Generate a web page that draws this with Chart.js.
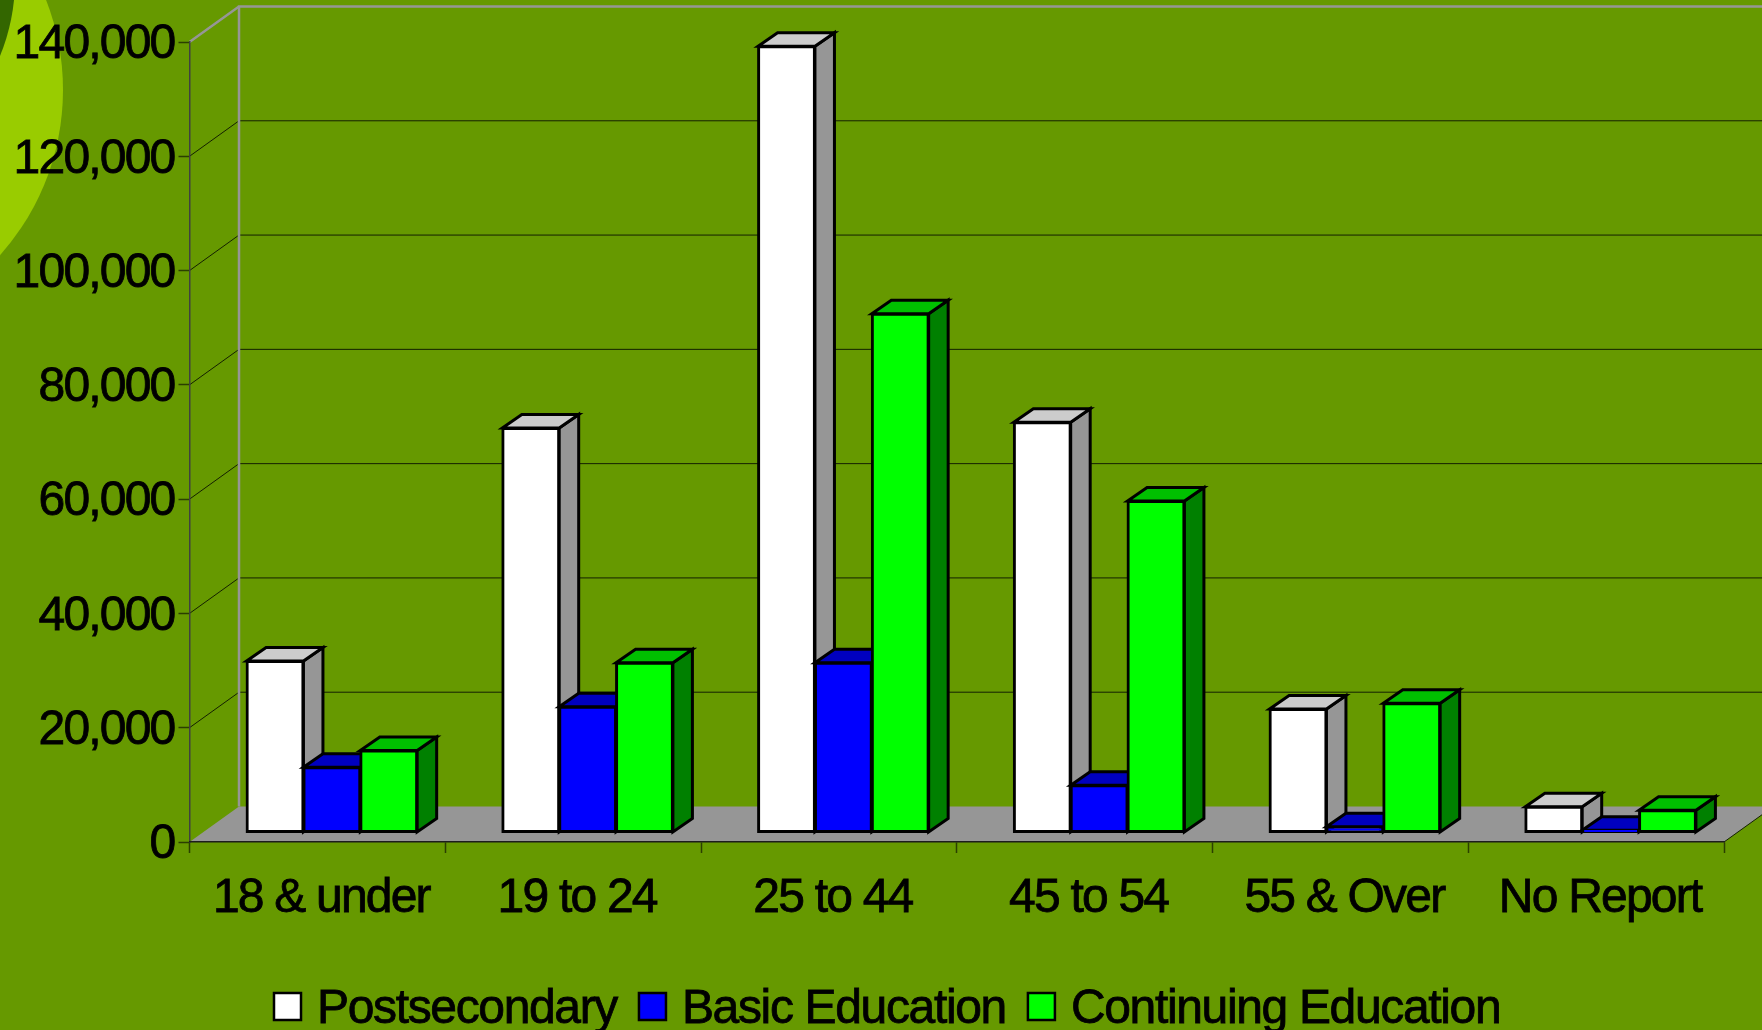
<!DOCTYPE html>
<html>
<head>
<meta charset="utf-8">
<style>
  html, body { margin: 0; padding: 0; background: #669900; overflow: hidden; }
  canvas { display: block; }
</style>
<script src="https://cdn.jsdelivr.net/npm/chart.js@4/dist/chart.umd.js"></script>
</head>
<body>
<canvas id="myChart" width="1762" height="1030" style="width:1762px;height:1030px"></canvas>
<script>
var categories = ["18 & under", "19 to 24", "25 to 44", "45 to 54", "55 & Over", "No Report"];
var postsecondary = [30000, 70800, 137600, 71800, 21600, 4500];
var basicEducation = [11400, 22000, 29700, 8250, 1000, 400];
var continuingEducation = [14350, 29700, 90800, 58000, 22600, 3900];

var FONT = "'Liberation Sans', Arial, sans-serif";
var WALL = { dx: 49.5, dy: 35.5 };      // depth of the whole 3d box
var SHIFT = { dx: 14.5, dy: 9.5 };      // bars sit this far back on the floor
var DEPTH = { dx: 19.5, dy: 13.5 };     // depth of one bar

function backdrop(ctx, chart) {
    ctx.fillStyle = "#669900";
    ctx.fillRect(0, 0, chart.width, chart.height);
    ctx.fillStyle = "#99cc00";
    ctx.beginPath();
    ctx.arc(-185, 90, 248, 0, Math.PI * 2);
    ctx.fill();
    ctx.fillStyle = "#336600";
    ctx.beginPath();
    ctx.arc(-185, -20, 200, 0, Math.PI * 2);
    ctx.fill();
}

function walls(ctx, chart) {
    var a = chart.chartArea;
    var y = chart.scales.y;
    var backX = a.left + WALL.dx;

    // floor
    ctx.fillStyle = "#969696";
    ctx.beginPath();
    ctx.moveTo(a.left, a.bottom);
    ctx.lineTo(backX, a.bottom - WALL.dy);
    ctx.lineTo(a.right + WALL.dx, a.bottom - WALL.dy);
    ctx.lineTo(a.right, a.bottom);
    ctx.closePath();
    ctx.fill();

    // gridlines on the side and back walls
    ctx.strokeStyle = "#142000";
    ctx.lineWidth = 1;
    y.ticks.forEach(function (t) {
        if (t.value === 0 || t.value === y.max) return;
        var py = y.getPixelForValue(t.value);
        ctx.beginPath();
        ctx.moveTo(a.left, py);
        ctx.lineTo(backX, py - WALL.dy);
        ctx.lineTo(a.right + WALL.dx, py - WALL.dy);
        ctx.stroke();
    });

    ctx.beginPath();
    ctx.moveTo(a.right, a.bottom);
    ctx.lineTo(a.right + WALL.dx, a.bottom - WALL.dy);
    ctx.stroke();

    // grey outline of the back wall
    ctx.strokeStyle = "#969696";
    ctx.lineWidth = 2.5;
    ctx.beginPath();
    ctx.moveTo(backX, a.bottom - WALL.dy);
    ctx.lineTo(backX, a.top - WALL.dy);
    ctx.lineTo(a.right + WALL.dx, a.top - WALL.dy);
    ctx.moveTo(backX, a.top - WALL.dy);
    ctx.lineTo(a.left, a.top);
    ctx.stroke();
}

function face(ctx, pts, fill) {
    ctx.fillStyle = fill;
    ctx.beginPath();
    pts.forEach(function (p, i) {
        if (i === 0) ctx.moveTo(p[0], p[1]);
        else ctx.lineTo(p[0], p[1]);
    });
    ctx.closePath();
    ctx.fill();
    ctx.stroke();
}

var box3d = {
    id: "box3d",
    beforeDraw: function (chart) {
        var ctx = chart.ctx;
        ctx.save();
        backdrop(ctx, chart);
        walls(ctx, chart);
        ctx.restore();
        ctx.letterSpacing = "-1.8px";
    },
    // left to right, so every bar covers the side of the one before it
    beforeDatasetsDraw: function (chart) {
        var ctx = chart.ctx;
        ctx.save();
        ctx.translate(SHIFT.dx, -SHIFT.dy);
        chart.getSortedVisibleDatasetMetas().forEach(function (meta) {
            var ds = chart.data.datasets[meta.index];
            ctx.strokeStyle = "#000";
            ctx.lineWidth = 3;
            ctx.lineJoin = "miter";
            meta.data.forEach(function (bar) {
                var x0 = bar.x - bar.width / 2;
                var x1 = bar.x + bar.width / 2;
                var d = DEPTH;
                face(ctx, [[x1, bar.y], [x1 + d.dx, bar.y - d.dy], [x1 + d.dx, bar.base - d.dy], [x1, bar.base]], ds.sideColor);
                face(ctx, [[x0, bar.y], [x0 + d.dx, bar.y - d.dy], [x1 + d.dx, bar.y - d.dy], [x1, bar.y]], ds.topColor);
            });
            meta.controller.draw();
        });
        ctx.restore();
        return false;
    },
    afterDraw: function (chart) {
        // legend squeezed under the axis, running off the bottom like the original
        var ctx = chart.ctx;
        var x = 274;
        ctx.save();
        ctx.font = "48px " + FONT;
        ctx.letterSpacing = "-1.35px";
        ctx.textBaseline = "alphabetic";
        ctx.textAlign = "left";
        chart.data.datasets.forEach(function (ds) {
            ctx.fillStyle = ds.backgroundColor;
            ctx.strokeStyle = "#000";
            ctx.lineWidth = 2.5;
            ctx.fillRect(x, 993, 27, 27);
            ctx.strokeRect(x, 993, 27, 27);
            ctx.fillStyle = "#000";
            ctx.lineWidth = 0.8;
            ctx.fillText(ds.label, x + 43, 1023);
            ctx.strokeText(ds.label, x + 43, 1023);
            x += 43 + ctx.measureText(ds.label).width + 22;
        });
        ctx.restore();
    }
};

var ctx = document.getElementById("myChart");

var myChart = new Chart(ctx, {
    type: "bar",
    data: {
        labels: categories,
        datasets: [
            {
                label: "Postsecondary",
                data: postsecondary,
                backgroundColor: "#ffffff",
                sideColor: "#969696",
                topColor: "#cccccc"
            },
            {
                label: "Basic Education",
                data: basicEducation,
                backgroundColor: "#0000ff",
                sideColor: "#000080",
                topColor: "#0000bf"
            },
            {
                label: "Continuing Education",
                data: continuingEducation,
                backgroundColor: "#00ff00",
                sideColor: "#008000",
                topColor: "#00c000"
            }
        ]
    },
    options: {
        responsive: false,
        animation: false,
        devicePixelRatio: 1,
        layout: {
            padding: { top: 42, right: 38, left: 0, bottom: 0 }
        },
        datasets: {
            bar: {
                borderColor: "#000",
                borderWidth: 3,
                borderSkipped: false,
                inflateAmount: 1,
                categoryPercentage: 0.667,
                barPercentage: 1
            }
        },
        scales: {
            y: {
                min: 0,
                max: 140000,
                afterFit: function (scale) { scale.width = 189.5; },
                ticks: {
                    stepSize: 20000,
                    color: "#000",
                    padding: 4,
                    labelOffset: 3,
                    textStrokeColor: "#000",
                    textStrokeWidth: 0.8,
                    font: { family: FONT, size: 48, lineHeight: 1 },
                    callback: function (v) { return v.toLocaleString("en-US"); }
                },
                grid: {
                    drawOnChartArea: false,
                    tickLength: 11,
                    tickColor: "#2b3f00",
                    tickWidth: 1.5
                },
                border: { color: "#404040", width: 1.5 }
            },
            x: {
                afterFit: function (scale) { scale.height = 188; },
                ticks: {
                    color: "#000",
                    padding: 22,
                    labelOffset: 4,
                    maxRotation: 0,
                    autoSkip: false,
                    textStrokeColor: "#000",
                    textStrokeWidth: 0.8,
                    font: { family: FONT, size: 48, lineHeight: 1 }
                },
                grid: {
                    drawOnChartArea: false,
                    tickLength: 11,
                    tickColor: "#2b3f00",
                    tickWidth: 1.5
                },
                border: { color: "#1c1c1c", width: 1.5 }
            }
        },
        plugins: {
            legend: { display: false },
            tooltip: { enabled: false }
        }
    },
    plugins: [box3d]
});
</script>
</body>
</html>
